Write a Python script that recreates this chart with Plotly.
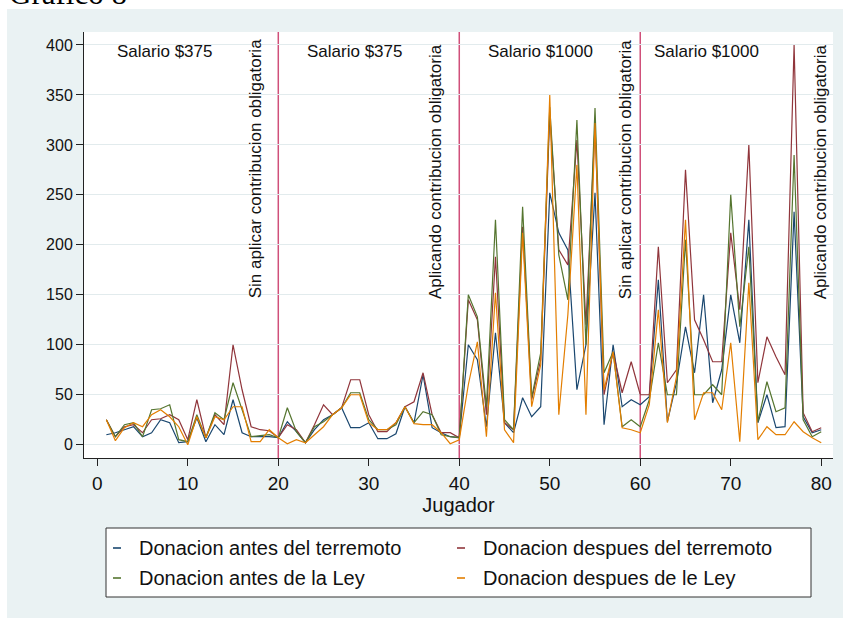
import plotly.graph_objects as go

# ---------------- data ----------------
jugador = list(range(1, 81))

antes_terremoto = [10, 12, 15, 18, 8, 12, 25, 22, 2, 3, 27, 3, 20, 10, 45, 12, 8, 8, 8, 7,
                   23, 13, 2, 15, 25, 30, 37, 17, 17, 22, 6, 6, 11, 38, 22, 70, 17, 12, 8, 7,
                   100, 85, 18, 112, 22, 12, 47, 28, 38, 252, 212, 195, 55, 100, 252, 20, 100, 38, 45, 40,
                   48, 165, 23, 62, 118, 72, 150, 42, 75, 150, 102, 225, 22, 50, 17, 18, 233, 28, 12, 15]

despues_terremoto = [25, 8, 18, 20, 12, 25, 26, 30, 25, 5, 45, 7, 30, 20, 100, 55, 18, 15, 14, 7,
                     20, 15, 2, 20, 40, 30, 37, 65, 65, 30, 13, 13, 22, 38, 43, 72, 30, 12, 12, 7,
                     145, 125, 30, 188, 22, 15, 218, 45, 85, 330, 195, 180, 305, 120, 320, 50, 93, 52, 83, 50,
                     50, 198, 62, 75, 275, 125, 105, 83, 83, 212, 135, 300, 62, 108, 88, 70, 400, 32, 13, 17]

antes_ley = [25, 8, 20, 22, 8, 35, 36, 40, 5, 3, 30, 7, 32, 25, 62, 35, 8, 9, 10, 7,
             37, 13, 2, 18, 23, 30, 37, 52, 52, 25, 15, 15, 20, 38, 22, 33, 30, 10, 8, 7,
             150, 128, 38, 225, 25, 15, 238, 47, 92, 338, 190, 145, 325, 100, 337, 72, 93, 18, 25, 18,
             45, 102, 50, 50, 205, 50, 50, 60, 50, 250, 118, 198, 23, 63, 33, 37, 290, 25, 8, 13]

despues_ley = [25, 4, 17, 22, 18, 30, 35, 28, 18, 0, 28, 7, 28, 25, 38, 38, 3, 3, 15, 7,
               1, 5, 2, 10, 18, 30, 37, 50, 50, 22, 15, 15, 22, 38, 21, 20, 20, 12, 1, 5,
               60, 103, 8, 152, 15, 2, 212, 38, 80, 350, 30, 130, 280, 30, 322, 55, 93, 17, 15, 12,
               40, 135, 22, 68, 225, 25, 52, 52, 35, 102, 3, 162, 5, 18, 10, 10, 23, 13, 7, 2]

series_names = ["Donacion antes del terremoto", "Donacion despues del terremoto",
                "Donacion antes de la Ley", "Donacion despues de le Ley"]
series_values = [antes_terremoto, despues_terremoto, antes_ley, despues_ley]

x_ticks = [0, 10, 20, 30, 40, 50, 60, 70, 80]
y_ticks = [0, 50, 100, 150, 200, 250, 300, 350, 400]
vline_x = [20, 40, 60]
salario_labels = ["Salario $375", "Salario $375", "Salario $1000", "Salario $1000"]
fase_labels = ["Sin aplicar contribucion obligatoria", "Aplicando contribucion obligatoria",
               "Sin aplicar contribucion obligatoria", "Aplicando contribucion obligatoria"]

# ---------------- style ----------------
colors = ["#1A476F", "#90353B", "#55752F", "#E37E00"]
BG = "#EAF2F3"
GRID = "#E2EBED"
VLINE = "#D0507A"
FONT = "Liberation Sans, Arial, sans-serif"

W, H = 843, 618
ML, MR, MT, MB = 84, 10, 32, 160
PW, PH = W - ML - MR, H - MT - MB


def px2x(px):
    return (px - ML) / PW


def py2y(py):
    return (H - MB - py) / PH


fig = go.Figure()
for name, vals, col in zip(series_names, series_values, colors):
    fig.add_trace(go.Scatter(x=jugador, y=vals, mode="lines", name=name,
                             line=dict(color=col, width=1.2), showlegend=False))

shapes = []
# white page strips (outside the light Stata background)
shapes.append(dict(type="rect", xref="paper", yref="paper", x0=px2x(0), x1=px2x(7),
                   y0=py2y(H), y1=py2y(0), fillcolor="white", line=dict(width=0), layer="below"))
shapes.append(dict(type="rect", xref="paper", yref="paper", x0=px2x(0), x1=px2x(W),
                   y0=py2y(9), y1=py2y(0), fillcolor="white", line=dict(width=0), layer="below"))

for xv in vline_x:
    shapes.append(dict(type="line", xref="x", yref="paper", x0=xv, x1=xv, y0=0, y1=1,
                       line=dict(color=VLINE, width=1.5), layer="below"))

# legend box
shapes.append(dict(type="rect", xref="paper", yref="paper", x0=px2x(106), x1=px2x(811),
                   y0=py2y(597), y1=py2y(528), fillcolor="white",
                   line=dict(color="#333333", width=1)))

annotations = []
leg_pos = [(113, 137, 548), (457, 481, 548), (113, 137, 578), (457, 481, 578)]
for (dx, tx, ty), name, col in zip(leg_pos, series_names, colors):
    shapes.append(dict(type="line", xref="paper", yref="paper", x0=px2x(dx), x1=px2x(dx + 8),
                       y0=py2y(ty), y1=py2y(ty), line=dict(color=col, width=1.6)))
    annotations.append(dict(text=name, xref="paper", yref="paper", x=px2x(tx), y=py2y(ty),
                            xanchor="left", yanchor="middle", showarrow=False,
                            font=dict(family=FONT, size=20, color="#111111")))

salario_x = [1.96, 22.95, 42.95, 61.26]
for xv, lab in zip(salario_x, salario_labels):
    annotations.append(dict(text=lab, x=xv, y=393, xref="x", yref="y", xanchor="left",
                            yanchor="middle", showarrow=False,
                            font=dict(family=FONT, size=17, color="#111111")))

fase_x = [17.43, 37.4, 58.3, 79.86]
for xv, lab in zip(fase_x, fase_labels):
    annotations.append(dict(text=lab, x=xv, y=144, xref="x", yref="y", xanchor="center",
                            yanchor="bottom", textangle=-90, showarrow=False,
                            font=dict(family=FONT, size=17, color="#111111")))

# document caption, cut at the top
annotations.append(dict(text="Gráfico 8", xref="paper", yref="paper", x=px2x(7), y=py2y(-6.5),
                        xanchor="left", yanchor="middle", showarrow=False,
                        font=dict(family="Liberation Serif, Times New Roman, serif", size=31,
                                  color="black")))

fig.update_layout(
    width=W, height=H,
    margin=dict(l=ML, r=MR, t=MT, b=MB, pad=0, autoexpand=False),
    paper_bgcolor=BG, plot_bgcolor="white",
    showlegend=False,
    shapes=shapes, annotations=annotations,
    font=dict(family=FONT, color="#111111"),
)

fig.update_xaxes(range=[-1.47, 81.3], tickvals=x_ticks, ticks="outside", ticklen=7,
                 tickcolor="#222222", showline=True, linecolor="#222222", linewidth=1,
                 showgrid=False, zeroline=False, tickfont=dict(size=19, family=FONT),
                 ticklabelstandoff=1,
                 title=dict(text="Jugador", font=dict(size=20, family=FONT), standoff=0))
fig.update_yaxes(range=[-13.3, 413], tickvals=y_ticks, ticks="outside", ticklen=7,
                 tickcolor="#222222", showline=True, linecolor="#222222", linewidth=1,
                 showgrid=True, gridcolor=GRID, gridwidth=1, zeroline=False,
                 tickfont=dict(size=16, family=FONT))

fig.write_html("out.html", config={"displayModeBar": False},
               post_script="document.body.style.margin='0px';document.body.style.overflow='hidden';")
